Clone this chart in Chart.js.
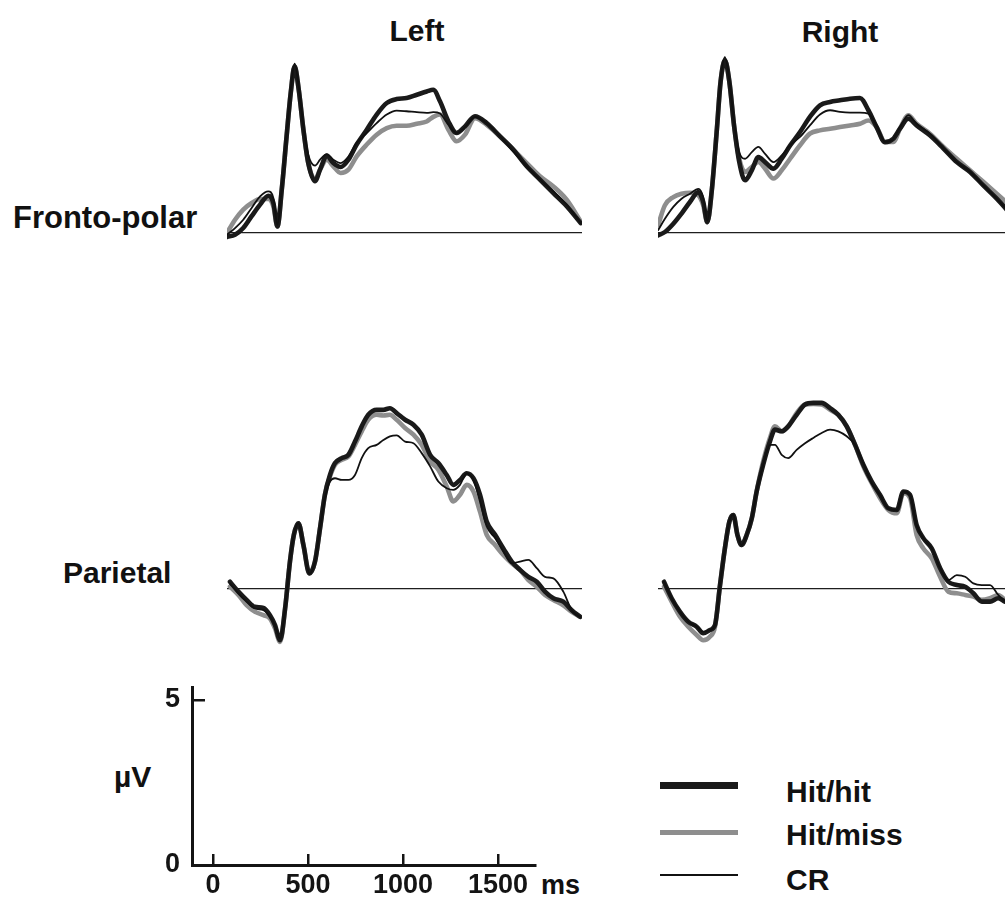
<!DOCTYPE html>
<html>
<head>
<meta charset="utf-8">
<title>ERP waveforms: Hit/hit, Hit/miss, CR</title>
<script src="https://cdn.jsdelivr.net/npm/chart.js@4.4.1/dist/chart.umd.min.js"></script>
<style>
  html, body { margin: 0; padding: 0; background: #fff; }
  body { width: 1005px; height: 910px; overflow: hidden; position: relative;
         font-family: "Liberation Sans", Arial, Helvetica, sans-serif; color: #111; }
  .lbl { position: absolute; white-space: nowrap; font-weight: bold; }
  canvas { position: absolute; }
  .swatch { position: absolute; }
</style>
</head>
<body>

<div class="lbl" style="left:317px;top:15.6px;width:200px;text-align:center;font-size:30px;line-height:30px;">Left</div>
<div class="lbl" style="left:740px;top:16.6px;width:200px;text-align:center;font-size:30px;line-height:30px;">Right</div>
<div class="lbl" style="left:13px;top:201.8px;font-size:31px;line-height:31px;">Fronto-polar</div>
<div class="lbl" style="left:63px;top:557.6px;font-size:30px;line-height:30px;">Parietal</div>
<div class="lbl" style="left:114px;top:761.6px;font-size:30px;line-height:30px;">µV</div>
<div class="lbl" style="left:541px;top:872px;font-size:27px;line-height:27px;">ms</div>

<canvas id="fpLeft"   width="355" height="231" style="left:227px;top:35px;"></canvas>
<canvas id="fpRight"  width="355" height="231" style="left:658px;top:35px;"></canvas>
<canvas id="parLeft"  width="355" height="281" style="left:227px;top:390px;"></canvas>
<canvas id="parRight" width="355" height="281" style="left:658px;top:390px;"></canvas>
<canvas id="scaleBar" width="620" height="270" style="left:0px;top:640px;"></canvas>
<div id="legend"></div>

<script>
// ---- condition names ----
const conditions = ['Hit/hit', 'Hit/miss', 'CR'];

// ---- Fronto-polar, left hemisphere (time in ms, amplitude in µV) ----
const fpLeftTimes   = [-100,-57,-13,32,77,121,148,170,193,219,241,262,284,309,335,371,398,434,469,508,550,594,648,701,755,808,861,916,969,1004,1040,1085,1129,1174,1227,1290,1361,1432,1504,1575,1647,1718,1793];
const fpLeftHitHit  = [-0.12,-0.05,0.15,0.51,0.86,1.13,0.91,0.20,1.31,2.93,4.24,5.05,4.34,3.13,2.12,1.57,1.92,2.34,2.12,2.00,2.22,2.68,3.13,3.59,3.94,4.06,4.09,4.19,4.29,4.34,3.99,3.38,3.03,3.23,3.54,3.33,2.93,2.53,2.02,1.62,1.21,0.81,0.30];
const fpLeftHitMiss = [0.00,0.40,0.71,0.91,1.03,1.03,0.81,0.20,1.31,2.93,4.24,5.05,4.34,3.13,2.12,1.62,1.92,2.22,2.02,1.82,1.92,2.32,2.68,2.98,3.18,3.25,3.25,3.31,3.38,3.52,3.59,3.13,2.78,2.98,3.48,3.28,2.93,2.53,2.12,1.72,1.41,1.01,0.35];
const fpLeftCR      = [-0.05,0.15,0.40,0.76,1.11,1.26,1.06,0.25,1.31,2.98,4.34,5.13,4.44,3.23,2.37,2.04,2.22,2.39,2.22,2.12,2.32,2.73,3.03,3.33,3.59,3.71,3.69,3.66,3.64,3.66,3.62,3.28,3.03,3.21,3.52,3.33,2.93,2.47,2.02,1.62,1.26,0.86,0.30];

// ---- Fronto-polar, right hemisphere ----
const fpRightTimes   = [-100,-63,-18,26,71,116,142,164,187,214,235,258,282,307,335,366,402,437,473,518,562,607,660,713,767,821,874,928,981,1026,1070,1115,1160,1195,1240,1284,1355,1428,1499,1570,1641,1713,1793];
const fpRightHitHit  = [-0.07,0.03,0.28,0.59,0.94,1.24,0.94,0.33,1.24,3.06,4.58,5.23,4.58,3.26,2.15,1.60,1.90,2.30,2.15,1.95,2.25,2.65,3.06,3.52,3.87,3.97,4.02,4.07,4.09,3.72,3.21,2.75,2.86,3.16,3.46,3.26,2.96,2.56,2.15,1.85,1.44,1.04,0.54];
const fpRightHitMiss = [0.23,0.84,1.09,1.19,1.22,1.14,0.84,0.33,1.24,3.06,4.58,5.23,4.58,3.26,2.25,1.85,2.00,2.15,1.95,1.65,1.90,2.25,2.66,3.01,3.11,3.16,3.21,3.26,3.31,3.41,3.21,2.76,2.76,3.16,3.57,3.31,3.01,2.61,2.25,1.90,1.55,1.19,0.79];
const fpRightCR      = [0.08,0.43,0.79,1.04,1.19,1.34,1.09,0.38,1.24,3.06,4.63,5.33,4.63,3.36,2.45,2.25,2.45,2.61,2.40,2.15,2.35,2.66,2.91,3.26,3.59,3.72,3.67,3.65,3.65,3.62,3.26,2.76,2.86,3.21,3.57,3.31,3.01,2.56,2.15,1.85,1.44,1.04,0.54];

// ---- Parietal, left hemisphere ----
const parLeftTimes   = [-84,-39,5,50,95,130,157,184,211,237,258,282,309,341,371,398,424,451,478,514,550,585,621,656,701,737,772,808,853,898,942,987,1031,1076,1111,1147,1183,1219,1254,1290,1335,1379,1424,1468,1513,1558,1602,1647,1700,1745,1790];
const parLeftHitHit  = [0.20,-0.10,-0.35,-0.56,-0.59,-0.81,-1.11,-1.57,-0.61,0.81,1.62,1.97,1.31,0.45,0.81,1.82,2.83,3.43,3.79,3.94,4.04,4.44,4.90,5.25,5.40,5.40,5.45,5.30,5.10,4.95,4.65,4.04,3.79,3.43,3.13,3.28,3.48,3.33,2.83,2.02,1.62,1.21,0.81,0.56,0.35,0.20,-0.10,-0.30,-0.40,-0.66,-0.86];
const parLeftHitMiss = [0.05,-0.20,-0.51,-0.71,-0.81,-0.91,-1.21,-1.62,-0.61,0.81,1.62,1.97,1.31,0.45,0.81,1.82,2.83,3.38,3.74,3.89,3.99,4.34,4.75,5.10,5.25,5.23,5.25,5.10,4.85,4.65,4.34,3.84,3.59,3.08,2.63,2.83,3.13,2.93,2.32,1.62,1.31,1.01,0.76,0.56,0.25,0.05,-0.20,-0.35,-0.51,-0.71,-0.86];
const parLeftCR      = [0.15,-0.15,-0.40,-0.61,-0.66,-0.86,-1.11,-1.52,-0.61,0.81,1.62,1.97,1.31,0.45,0.81,1.82,2.73,3.23,3.33,3.28,3.28,3.43,3.94,4.24,4.34,4.49,4.60,4.63,4.44,4.39,4.09,3.69,3.23,3.03,2.98,3.13,3.48,3.28,2.63,1.87,1.52,1.11,0.76,0.81,0.86,0.61,0.35,0.30,-0.10,-0.66,-0.86];

// ---- Parietal, right hemisphere ----
const parRightTimes   = [-68,-27,18,62,107,142,178,205,232,258,282,303,325,347,375,402,428,463,499,526,562,597,642,687,731,776,821,865,910,955,999,1044,1088,1133,1178,1213,1249,1284,1320,1365,1410,1454,1499,1544,1588,1633,1677,1721,1757];
const parRightHitHit  = [0.20,-0.30,-0.71,-1.01,-1.16,-1.36,-1.26,-1.11,0.10,1.21,2.02,2.22,1.62,1.31,1.62,2.12,2.93,3.74,4.44,4.80,4.75,4.90,5.25,5.56,5.61,5.61,5.45,5.25,4.90,4.34,3.74,3.23,2.83,2.42,2.37,2.93,2.83,1.92,1.52,1.21,0.61,0.20,0.10,0.05,-0.15,-0.40,-0.40,-0.30,-0.40];
const parRightHitMiss = [0.05,-0.40,-0.86,-1.16,-1.41,-1.57,-1.46,-1.16,0.10,1.21,2.02,2.22,1.62,1.31,1.62,2.12,2.93,3.84,4.55,4.90,4.75,4.90,5.30,5.56,5.58,5.56,5.40,5.25,4.90,4.34,3.69,3.18,2.73,2.37,2.27,2.88,2.73,1.62,1.21,0.91,0.35,-0.10,-0.15,-0.20,-0.25,-0.35,-0.30,-0.20,-0.35];
const parRightCR      = [0.20,-0.30,-0.71,-1.01,-1.16,-1.31,-1.26,-1.11,0.10,1.21,2.02,2.22,1.62,1.31,1.62,2.12,2.93,3.74,4.34,4.34,4.04,3.94,4.19,4.39,4.55,4.70,4.80,4.75,4.60,4.34,3.79,3.18,2.83,2.42,2.37,2.93,2.83,1.92,1.52,1.21,0.61,0.25,0.40,0.35,0.15,0.10,0.10,-0.20,-0.40];

// ---- calibration bar ticks ----
const scaleTimeTicks = [0, 500, 1000, 1500];
const scaleVoltTicks = [0, 5];

// ---- styling ----
const FONT = '"Liberation Sans", Arial, Helvetica, sans-serif';
const INK = '#141414';
const lineStyles = [
  { color: '#1a1a1a', width: 4.6, order: 1 },   // Hit/hit
  { color: '#8e8e8e', width: 4.6, order: 2 },   // Hit/miss
  { color: '#111111', width: 1.8, order: 0 }    // CR
];

Chart.defaults.font.family = FONT;

function toPoints(times, values) {
  return times.map((t, i) => ({ x: t, y: values[i] }));
}

function waveformChart(id, times, seriesList, yMin, yMax) {
  return new Chart(document.getElementById(id), {
    type: 'line',
    data: {
      datasets: seriesList.map((vals, i) => ({
        label: conditions[i],
        data: toPoints(times, vals),
        borderColor: lineStyles[i].color,
        borderWidth: lineStyles[i].width,
        order: lineStyles[i].order,
        fill: false
      }))
    },
    options: {
      responsive: false,
      animation: false,
      devicePixelRatio: 1,
      events: [],
      layout: { padding: 0 },
      plugins: { legend: { display: false }, tooltip: { enabled: false } },
      elements: {
        point: { radius: 0 },
        line: { cubicInterpolationMode: 'monotone', borderCapStyle: 'round', borderJoinStyle: 'round' }
      },
      scales: {
        x: { type: 'linear', min: -100, max: 1800, display: false },
        y: {
          min: yMin, max: yMax,
          afterBuildTicks: s => { s.ticks = [{ value: 0 }]; },
          afterFit: s => { s.width = 0; },
          grid: { color: '#1e1e1e', lineWidth: 1.3, drawTicks: false },
          border: { display: false },
          ticks: { display: false }
        }
      }
    }
  });
}

const fpL = waveformChart('fpLeft', fpLeftTimes, [fpLeftHitHit, fpLeftHitMiss, fpLeftCR], -1, 6);
waveformChart('fpRight', fpRightTimes, [fpRightHitHit, fpRightHitMiss, fpRightCR], -1, 6);
waveformChart('parLeft', parLeftTimes, [parLeftHitHit, parLeftHitMiss, parLeftCR], -2.5, 6);
waveformChart('parRight', parRightTimes, [parRightHitHit, parRightHitMiss, parRightCR], -2.5, 6);

// calibration bar: 0–5 µV by 0–1500 ms, ticks pointing inwards
const tickFont = { family: FONT, size: 27, weight: 'bold' };
new Chart(document.getElementById('scaleBar'), {
  type: 'line',
  data: { datasets: [] },
  options: {
    responsive: false,
    animation: false,
    devicePixelRatio: 1,
    events: [],
    layout: { padding: { top: 47, right: 85, left: 0, bottom: 0 } },
    plugins: { legend: { display: false }, tooltip: { enabled: false } },
    scales: {
      x: {
        type: 'linear', position: 'bottom', min: -110, max: 1695,
        afterBuildTicks: s => { s.ticks = scaleTimeTicks.map(v => ({ value: v })); },
        afterFit: s => { s.height = 45; },
        grid: { drawOnChartArea: false, drawTicks: true, tickLength: -11, color: INK, lineWidth: 2.5 },
        border: { display: true, color: INK, width: 3 },
        ticks: { padding: 15, color: INK, maxRotation: 0, autoSkip: false, font: tickFont,
                 callback: v => String(v) }
      },
      y: {
        type: 'linear', position: 'left', min: 0, max: 5.39,
        afterBuildTicks: s => { s.ticks = scaleVoltTicks.map(v => ({ value: v })); },
        afterFit: s => { s.width = 192; },
        grid: { drawOnChartArea: false, drawTicks: true, tickLength: -13, color: INK, lineWidth: 2.5 },
        border: { display: true, color: INK, width: 3 },
        ticks: { padding: 25, color: INK, autoSkip: false, font: tickFont,
                 callback: v => String(v) }
      }
    }
  }
});

// HTML legend built from the dataset definitions
(function buildLegend() {
  const host = document.getElementById('legend');
  const rows = [
    { lineY: 785, textTop: 776.6, thick: 7 },
    { lineY: 832, textTop: 819.6, thick: 5 },
    { lineY: 875, textTop: 864.6, thick: 2.5 }
  ];
  fpL.data.datasets.forEach((ds, i) => {
    const r = rows[i];
    const sw = document.createElement('div');
    sw.className = 'swatch';
    sw.style.left = '660px';
    sw.style.width = '78px';
    sw.style.top = (r.lineY - r.thick / 2) + 'px';
    sw.style.height = r.thick + 'px';
    sw.style.background = ds.borderColor;
    host.appendChild(sw);
    const tx = document.createElement('div');
    tx.className = 'lbl';
    tx.style.left = '786px';
    tx.style.top = r.textTop + 'px';
    tx.style.fontSize = '30px';
    tx.style.lineHeight = '30px';
    tx.textContent = ds.label;
    host.appendChild(tx);
  });
})();
</script>
</body>
</html>
